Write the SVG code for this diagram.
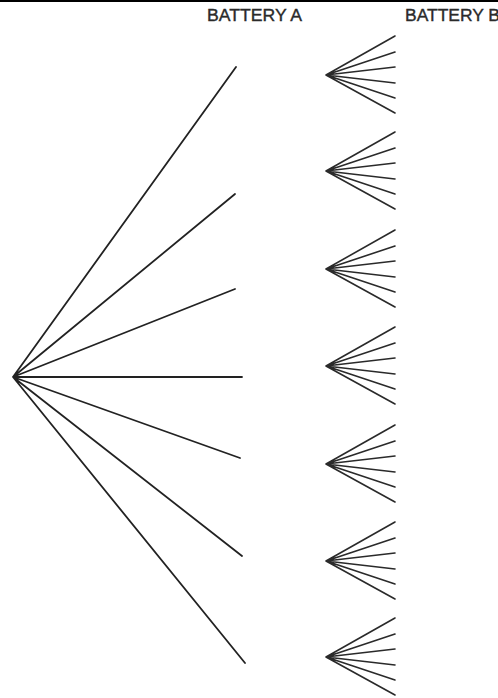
<svg xmlns="http://www.w3.org/2000/svg" width="498" height="698" viewBox="0 0 498 698">
<style>
.lbl{font-family:"Liberation Sans",Arial,sans-serif;font-size:16px;fill:#2a2a2a;stroke:#2a2a2a;stroke-width:0.35}
.br{stroke:#222;stroke-width:1.8;fill:none;stroke-linecap:round}
.sb{stroke:#2a2a2a;stroke-width:1.6;fill:none;stroke-linecap:round}
</style>
<defs>
<g id="fan">
<path class="sb" d="M0 0L69 -39M0 0L69 -23M0 0L69 -8M0 0L69 8M0 0L69 23M0 0L69 38"/>
</g>
</defs>
<rect x="0" y="0" width="498" height="2" fill="#000"/>
<g id="label-a"><text class="lbl" x="207" y="21" textLength="95" lengthAdjust="spacingAndGlyphs">BATTERY A</text></g>
<g id="label-b"><text class="lbl" x="405" y="21" textLength="95" lengthAdjust="spacingAndGlyphs">BATTERY B</text></g>
<g id="connectors">
<path class="br" d="M13 377L236 67M13 377L235 194M13 377L235 289M13 377L242 377M13 377L240 458M13 377L242 556M13 377L245 663"/>
</g>
<g id="fan1"><use href="#fan" x="326" y="75"/></g>
<g id="fan2"><use href="#fan" x="326" y="171"/></g>
<g id="fan3"><use href="#fan" x="326" y="269"/></g>
<g id="fan4"><use href="#fan" x="326" y="366"/></g>
<g id="fan5"><use href="#fan" x="326" y="464"/></g>
<g id="fan6"><use href="#fan" x="326" y="561"/></g>
<g id="fan7"><use href="#fan" x="326" y="657"/></g>
</svg>
